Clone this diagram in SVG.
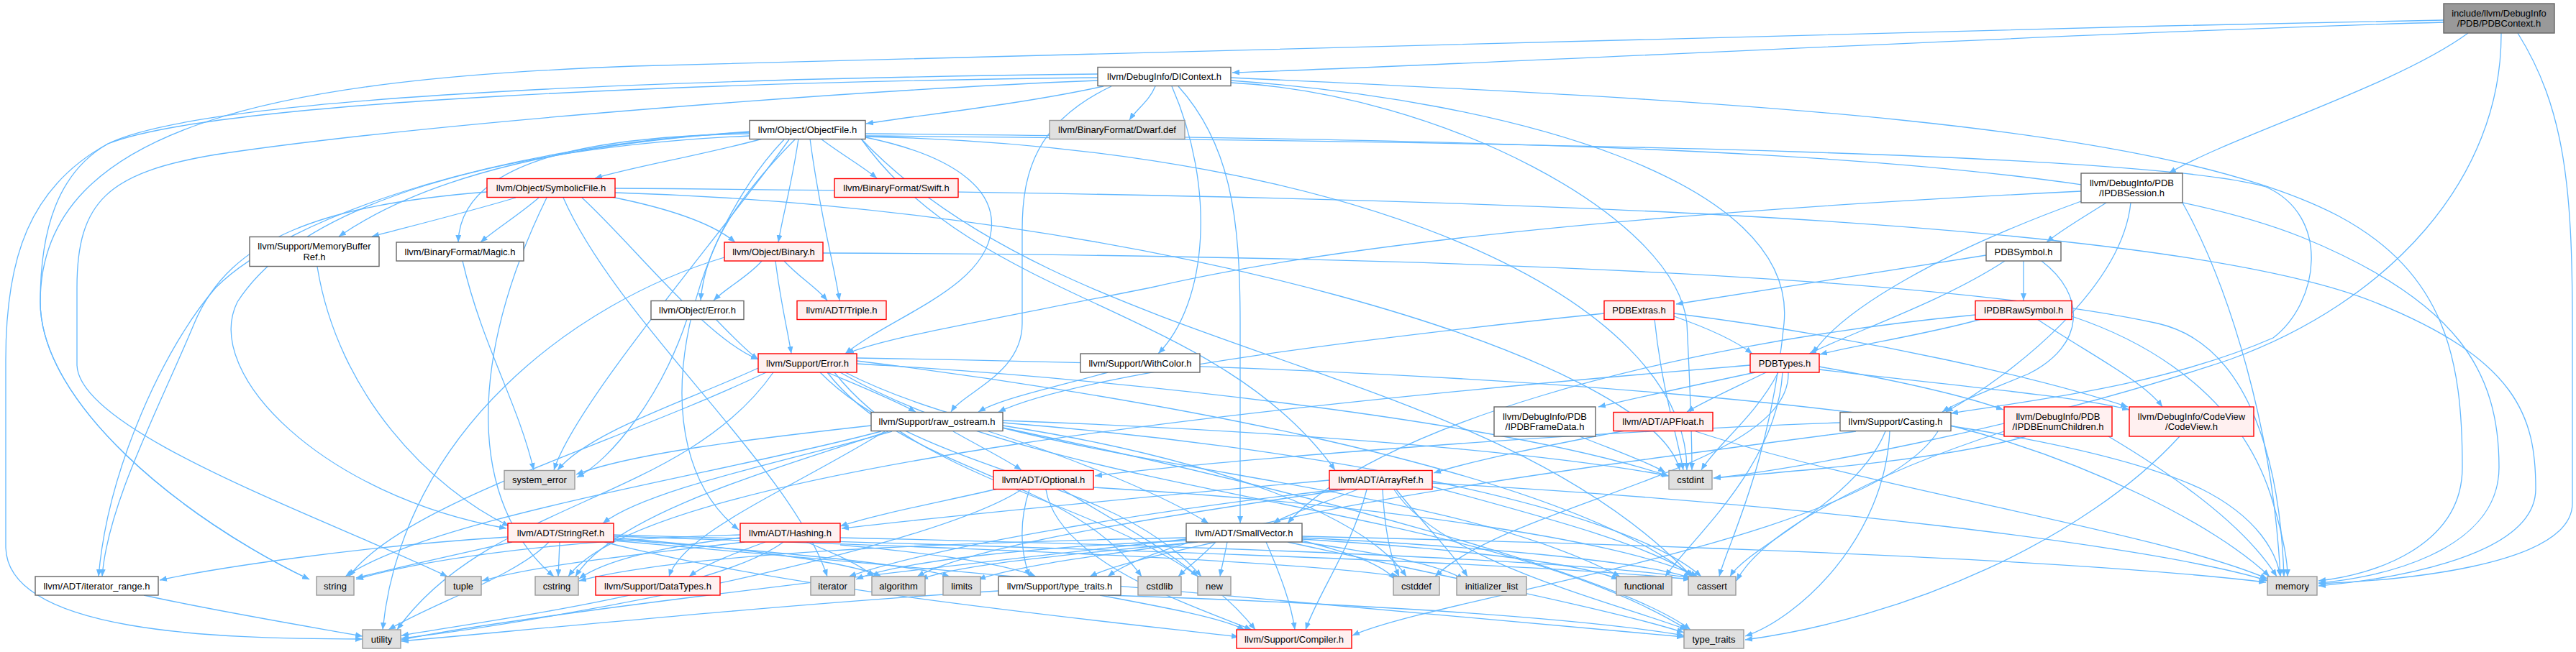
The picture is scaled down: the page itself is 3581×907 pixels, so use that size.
<svg xmlns="http://www.w3.org/2000/svg" width="3581" height="907" viewBox="0 0 3581 907">
<defs>
<marker id="a" viewBox="0 0 10 8" refX="10" refY="4" markerWidth="10" markerHeight="8" markerUnits="userSpaceOnUse" orient="auto"><path d="M0,0 L10,4 L0,8 z" fill="#63b8ff"/></marker>
<style>
.e path{fill:none;stroke:#63b8ff;stroke-width:1.3;marker-end:url(#a)}
.n rect{stroke-width:1.4}
.w rect{fill:#ffffff;stroke:#666666}
.r rect{fill:#fff0f0;stroke:#ff0000}
.g rect{fill:#e0e0e0;stroke:#999999}
.root rect{fill:#999999;stroke:#666666}
text{font-family:"Liberation Sans",Arial,Helvetica,sans-serif;font-size:13px;fill:#000000;text-anchor:middle}
</style>
</defs>
<rect x="0" y="0" width="3581" height="907" fill="#ffffff"/>
<g id="edges" class="e">
<path d="M3397,31 C2900,45 2100,88 1713,101"/>
<path d="M3431,46 C3330,120 3100,190 3015,241"/>
<path d="M3477,46 C3478,250 3320,420 3100,500 C2800,600 2480,655 2382,665"/>
<path d="M3500,46 C3565,150 3576,260 3576,450 L3576,700 C3576,790 3320,808 3223,812"/>
<path d="M3397,28 C2400,48 1300,76 880,92 C400,110 56,170 56,420 C56,560 250,720 430,806"/>
<path d="M1534,120 C1420,145 1280,160 1204,172"/>
<path d="M1606,120 C1598,140 1580,152 1570,167"/>
<path d="M1629,120 C1690,260 1680,420 1610,492"/>
<path d="M1638,120 C1710,200 1724,300 1724,450 L1724,728"/>
<path d="M1545,120 C1440,170 1421,240 1421,320 L1421,450 C1421,520 1340,545 1322,573"/>
<path d="M1711,112 C2100,140 2500,250 2480,450 C2460,650 2400,760 2390,802"/>
<path d="M1711,115 C2000,130 2330,300 2345,450 C2350,550 2352,620 2352,654"/>
<path d="M1711,108 C2400,140 3000,170 3250,300 C3400,380 3423,500 3423,650 C3423,760 3300,800 3223,808"/>
<path d="M1526,103 C1100,108 300,125 150,200 C80,240 56,320 56,420 C56,560 250,720 430,806"/>
<path d="M1526,108 C1000,114 300,140 150,200 C40,260 8,360 8,500 L8,760 C8,880 300,889 504,889"/>
<path d="M1526,112 C1200,125 600,170 300,215 C150,240 107,280 107,400 L107,507 C107,600 450,720 622,802"/>
<path d="M2928,282 C2900,300 2865,320 2845,337"/>
<path d="M2893,266 C2400,290 1900,330 1600,400 C1350,450 1230,470 1177,492"/>
<path d="M2893,280 C2700,350 2560,430 2520,492"/>
<path d="M2962,282 C2950,400 2800,520 2705,573"/>
<path d="M3034,282 C3100,400 3160,600 3170,802"/>
<path d="M1060,193 C980,215 880,232 827,248"/>
<path d="M1141,193 C1170,215 1200,232 1219,248"/>
<path d="M1110,193 C1100,260 1088,300 1082,337"/>
<path d="M1126,193 C1140,300 1160,370 1167,418"/>
<path d="M1106,193 C1030,270 980,340 974,418"/>
<path d="M1042,186 C800,190 640,230 637,337"/>
<path d="M1042,183 C800,200 600,240 471,329"/>
<path d="M1042,184 C700,200 400,300 300,400 C230,480 150,650 137,802"/>
<path d="M1203,191 C1320,215 1385,260 1378,320 C1370,400 1240,440 1175,492"/>
<path d="M1090,194 C960,330 880,620 1027,737"/>
<path d="M1042,189 C700,205 420,280 330,420 C280,520 450,690 704,735"/>
<path d="M1197,193 C1362,424 1691,424 1856,654"/>
<path d="M1203,189 C2200,198 3000,215 3150,260 C3240,300 3225,420 3160,470 C3000,540 2800,560 2712,575"/>
<path d="M1197,193 C1486,498 2063,498 2352,802"/>
<path d="M1203,190 C1900,205 2345,420 2345,654"/>
<path d="M1203,186 C2200,195 2900,210 3200,330 C3420,420 3474,520 3474,650 C3474,770 3300,805 3223,811"/>
<path d="M1097,194 C1000,330 800,560 770,654"/>
<path d="M717,275 C650,295 570,315 517,329"/>
<path d="M749,275 C720,300 690,318 668,337"/>
<path d="M850,274 C930,290 990,310 1022,337"/>
<path d="M677,267 C450,285 320,330 270,450 C220,570 150,700 142,802"/>
<path d="M809,275 C880,340 980,470 1054,500"/>
<path d="M855,268 C1600,290 2300,500 2335,654"/>
<path d="M855,262 C2000,270 3000,300 3300,420 C3500,500 3525,580 3525,680 C3525,780 3300,808 3223,815"/>
<path d="M760,275 C650,500 650,700 770,802"/>
<path d="M783,275 C860,450 1100,650 1150,802"/>
<path d="M441,371 C470,550 600,680 708,732"/>
<path d="M643,363 C670,480 720,560 742,654"/>
<path d="M1059,363 C1040,385 1010,400 992,418"/>
<path d="M1090,363 C1110,385 1135,400 1150,418"/>
<path d="M1078,363 C1085,420 1095,460 1100,492"/>
<path d="M1144,352 C2000,355 2700,385 3000,450 C3130,480 3170,650 3175,802"/>
<path d="M1007,358 C800,420 560,600 532,876"/>
<path d="M2813,363 L2813,418"/>
<path d="M2761,355 C2600,380 2450,405 2330,423"/>
<path d="M2787,363 C2700,420 2580,460 2515,492"/>
<path d="M2838,363 C2900,410 2900,480 2820,520 C2760,545 2720,560 2700,573"/>
<path d="M995,444 C1020,470 1040,490 1054,500"/>
<path d="M955,444 C920,550 850,640 802,664"/>
<path d="M2230,436 C1900,470 1500,520 1388,573"/>
<path d="M2300,444 C2310,540 2330,600 2340,654"/>
<path d="M2327,440 C2370,455 2410,472 2436,492"/>
<path d="M2327,436 C2600,470 2850,530 2958,566"/>
<path d="M2754,444 C2680,465 2580,480 2530,493"/>
<path d="M2746,438 C2300,480 1900,600 1790,728"/>
<path d="M2832,444 C2900,490 2980,530 3006,566"/>
<path d="M2880,440 C3000,480 3120,560 3160,700 C3175,750 3180,780 3180,802"/>
<path d="M1150,518 C1190,535 1240,555 1273,573"/>
<path d="M1054,512 C950,560 820,600 775,654"/>
<path d="M1065,518 C850,620 560,700 485,802"/>
<path d="M1075,518 C950,697 679,697 552,876"/>
<path d="M1160,518 C1300,697 1605,697 1745,876"/>
<path d="M1191,502 C1500,540 2150,640 2352,802"/>
<path d="M1191,506 C1600,530 2100,590 2319,662"/>
<path d="M1150,518 C1260,660 1487,660 1587,802"/>
<path d="M1175,518 C1452,660 1985,660 2252,802"/>
<path d="M1191,498 C2000,510 2800,560 3060,680 C3140,720 3165,770 3170,802"/>
<path d="M1140,518 C1280,660 1549,660 1670,802"/>
<path d="M1168,518 C1475,697 2056,697 2346,876"/>
<path d="M1540,518 C1460,540 1390,555 1360,573"/>
<path d="M2440,518 C2360,535 2280,552 2222,566"/>
<path d="M2455,518 C2410,540 2370,558 2345,573"/>
<path d="M2472,518 C2440,580 2385,620 2365,654"/>
<path d="M2478,518 C2470,650 2350,750 2315,802"/>
<path d="M2529,510 C2640,530 2730,550 2785,570"/>
<path d="M2529,514 C2700,535 2880,550 2960,570"/>
<path d="M2486,518 C2490,650 2100,700 1995,802"/>
<path d="M2433,508 C1800,560 900,650 790,802"/>
<path d="M1325,600 C1360,620 1400,640 1420,654"/>
<path d="M1240,600 C1100,640 900,680 838,728"/>
<path d="M1374,600 C1500,640 1620,690 1680,728"/>
<path d="M1230,600 C1100,680 950,740 930,802"/>
<path d="M1394,588 C1800,620 2250,700 2365,802"/>
<path d="M1394,592 C1700,640 1900,720 1955,802"/>
<path d="M1394,585 C1800,600 2150,630 2320,662"/>
<path d="M1235,600 C1050,660 850,720 800,802"/>
<path d="M1225,600 C1000,660 600,720 480,802"/>
<path d="M1211,592 C1050,610 880,630 801,660"/>
<path d="M1394,595 C1800,680 2250,800 2350,876"/>
<path d="M2196,607 C2240,625 2285,640 2315,657"/>
<path d="M2259,599 C2150,620 2050,640 1993,658"/>
<path d="M2357,600 C2600,680 3000,740 3152,805"/>
<path d="M2558,588 C2200,600 1700,640 1522,662"/>
<path d="M2621,600 C2580,700 2430,760 2405,802"/>
<path d="M2627,600 C2620,750 2500,860 2426,885"/>
<path d="M2712,592 C2900,640 3080,730 3155,802"/>
<path d="M2694,600 C2600,750 2000,830 1880,884"/>
<path d="M2580,600 C2200,650 1650,720 1540,802"/>
<path d="M2786,600 C2600,660 2450,740 2414,808"/>
<path d="M2817,607 C2700,640 2500,655 2382,665"/>
<path d="M2931,607 C3020,660 3120,730 3165,802"/>
<path d="M3030,607 C2900,750 2650,860 2426,890"/>
<path d="M1387,680 C1300,700 1220,715 1168,732"/>
<path d="M1420,681 C1300,760 800,860 558,888"/>
<path d="M1431,681 C1415,730 1420,770 1431,802"/>
<path d="M1454,681 C1470,780 1650,840 1740,876"/>
<path d="M1477,681 C1560,730 1630,770 1665,802"/>
<path d="M1520,678 C1900,700 2250,750 2360,802"/>
<path d="M1887,681 C1840,700 1790,715 1770,728"/>
<path d="M1848,668 C1600,690 1300,720 1170,735"/>
<path d="M1922,681 C1925,740 1935,780 1945,802"/>
<path d="M1941,681 C1980,730 2020,770 2040,802"/>
<path d="M1991,677 C2150,720 2300,760 2355,802"/>
<path d="M1938,681 C2000,780 2250,840 2345,876"/>
<path d="M1991,672 C2500,700 3000,760 3153,808"/>
<path d="M1900,681 C1880,760 1830,830 1815,876"/>
<path d="M1870,681 C1600,720 1350,760 1275,802"/>
<path d="M1860,681 C1600,710 1300,760 1180,802"/>
<path d="M706,747 C500,760 300,790 222,807"/>
<path d="M712,754 C640,770 550,790 495,804"/>
<path d="M778,754 L776,802"/>
<path d="M763,754 C720,800 600,840 540,876"/>
<path d="M853,748 C1000,760 1180,780 1225,802"/>
<path d="M853,750 C1050,765 1270,785 1320,802"/>
<path d="M853,744 C1400,760 2100,780 2350,806"/>
<path d="M853,746 C1300,760 1800,780 1945,802"/>
<path d="M853,752 C1400,800 2000,860 2341,886"/>
<path d="M840,754 C1100,820 1500,860 1722,886"/>
<path d="M1064,754 C1020,770 980,785 958,802"/>
<path d="M1121,754 C1160,770 1195,785 1215,802"/>
<path d="M1168,758 C1300,770 1400,785 1440,802"/>
<path d="M1168,748 C1700,760 2200,780 2350,804"/>
<path d="M1029,748 C920,760 840,780 805,805"/>
<path d="M1029,744 C800,750 600,775 495,806"/>
<path d="M1035,754 C900,770 750,785 670,808"/>
<path d="M1089,754 C1000,820 700,860 558,884"/>
<path d="M1760,754 C1780,800 1795,840 1800,876"/>
<path d="M1690,754 C1620,770 1550,785 1515,802"/>
<path d="M1665,754 C1500,770 1330,785 1280,806"/>
<path d="M1810,748 C2050,760 2280,780 2350,804"/>
<path d="M1810,752 C1880,770 1920,785 1940,806"/>
<path d="M1690,754 C1670,775 1650,790 1638,802"/>
<path d="M1649,748 C1300,755 950,770 805,808"/>
<path d="M1810,750 C2050,765 2200,785 2250,806"/>
<path d="M1810,754 C1920,770 2000,785 2035,806"/>
<path d="M1649,752 C1450,760 1250,780 1190,806"/>
<path d="M1660,754 C1550,770 1420,785 1360,806"/>
<path d="M1810,746 C2400,760 2900,780 3150,810"/>
<path d="M1706,754 C1702,775 1698,790 1696,802"/>
<path d="M1790,754 C2000,800 2250,850 2341,880"/>
<path d="M1649,750 C1200,800 700,860 558,890"/>
<path d="M200,828 C300,850 420,870 504,885"/>
<path d="M1540,828 C1900,840 2200,860 2341,884"/>
<path d="M1529,828 C1620,845 1700,860 1730,876"/>
<path d="M1388,822 C1100,840 800,870 558,892"/>
</g>
<g id="n_pdbcontext" class="n root"><rect x="3397" y="5" width="154" height="41"/><text x="3474" y="22.7">include/llvm/DebugInfo</text><text x="3474" y="37.3">/PDB/PDBContext.h</text></g>
<g id="n_dicontext" class="n w"><rect x="1526" y="93.5" width="185" height="26"/><text x="1618.5" y="111">llvm/DebugInfo/DIContext.h</text></g>
<g id="n_ipdbsession" class="n w"><rect x="2893" y="241" width="141" height="41"/><text x="2963.5" y="258.7">llvm/DebugInfo/PDB</text><text x="2963.5" y="273.3">/IPDBSession.h</text></g>
<g id="n_objectfile" class="n w"><rect x="1042" y="167.5" width="161" height="26"/><text x="1122.5" y="185">llvm/Object/ObjectFile.h</text></g>
<g id="n_dwarfdef" class="n g"><rect x="1459" y="167.5" width="188" height="26"/><text x="1553" y="185">llvm/BinaryFormat/Dwarf.def</text></g>
<g id="n_symbolicfile" class="n r"><rect x="677" y="248.5" width="178" height="26"/><text x="766" y="266">llvm/Object/SymbolicFile.h</text></g>
<g id="n_swift" class="n r"><rect x="1160" y="248.5" width="172" height="26"/><text x="1246" y="266">llvm/BinaryFormat/Swift.h</text></g>
<g id="n_memorybufferref" class="n w"><rect x="347" y="329.5" width="180" height="41"/><text x="437" y="347.2">llvm/Support/MemoryBuffer</text><text x="437" y="361.8">Ref.h</text></g>
<g id="n_magic" class="n w"><rect x="551" y="337" width="177" height="26"/><text x="639.5" y="354.5">llvm/BinaryFormat/Magic.h</text></g>
<g id="n_binary" class="n r"><rect x="1007" y="337" width="137" height="26"/><text x="1075.5" y="354.5">llvm/Object/Binary.h</text></g>
<g id="n_pdbsymbol" class="n w"><rect x="2761" y="337" width="104" height="26"/><text x="2813" y="354.5">PDBSymbol.h</text></g>
<g id="n_objerror" class="n w"><rect x="905" y="418.5" width="129" height="26"/><text x="969.5" y="436">llvm/Object/Error.h</text></g>
<g id="n_triple" class="n r"><rect x="1108" y="418.5" width="124" height="26"/><text x="1170" y="436">llvm/ADT/Triple.h</text></g>
<g id="n_pdbextras" class="n r"><rect x="2230" y="418.5" width="97" height="26"/><text x="2278.5" y="436">PDBExtras.h</text></g>
<g id="n_ipdbrawsymbol" class="n r"><rect x="2746" y="418.5" width="134" height="26"/><text x="2813" y="436">IPDBRawSymbol.h</text></g>
<g id="n_error" class="n r"><rect x="1054" y="492" width="137" height="26"/><text x="1122.5" y="509.5">llvm/Support/Error.h</text></g>
<g id="n_withcolor" class="n w"><rect x="1502" y="492" width="166" height="26"/><text x="1585" y="509.5">llvm/Support/WithColor.h</text></g>
<g id="n_pdbtypes" class="n r"><rect x="2433" y="492" width="96" height="26"/><text x="2481" y="509.5">PDBTypes.h</text></g>
<g id="n_rawostream" class="n w"><rect x="1211" y="573.5" width="183" height="26"/><text x="1302.5" y="591">llvm/Support/raw_ostream.h</text></g>
<g id="n_ipdbframedata" class="n w"><rect x="2077" y="566" width="141" height="41"/><text x="2147.5" y="583.7">llvm/DebugInfo/PDB</text><text x="2147.5" y="598.3">/IPDBFrameData.h</text></g>
<g id="n_apfloat" class="n r"><rect x="2243" y="573.5" width="138" height="26"/><text x="2312" y="591">llvm/ADT/APFloat.h</text></g>
<g id="n_casting" class="n w"><rect x="2558" y="573.5" width="154" height="26"/><text x="2635" y="591">llvm/Support/Casting.h</text></g>
<g id="n_ipdbenumchildren" class="n r"><rect x="2786" y="566" width="150" height="41"/><text x="2861" y="583.7">llvm/DebugInfo/PDB</text><text x="2861" y="598.3">/IPDBEnumChildren.h</text></g>
<g id="n_codeview" class="n r"><rect x="2960" y="566" width="173" height="41"/><text x="3046.5" y="583.7">llvm/DebugInfo/CodeView</text><text x="3046.5" y="598.3">/CodeView.h</text></g>
<g id="n_system_error" class="n g"><rect x="701" y="654.5" width="98" height="26"/><text x="750" y="672">system_error</text></g>
<g id="n_optional" class="n r"><rect x="1381" y="654.5" width="139" height="26"/><text x="1450.5" y="672">llvm/ADT/Optional.h</text></g>
<g id="n_arrayref" class="n r"><rect x="1848" y="654.5" width="143" height="26"/><text x="1919.5" y="672">llvm/ADT/ArrayRef.h</text></g>
<g id="n_cstdint" class="n g"><rect x="2320" y="654.5" width="60" height="26"/><text x="2350" y="672">cstdint</text></g>
<g id="n_stringref" class="n r"><rect x="706" y="728" width="147" height="26"/><text x="779.5" y="745.5">llvm/ADT/StringRef.h</text></g>
<g id="n_hashing" class="n r"><rect x="1029" y="728" width="139" height="26"/><text x="1098.5" y="745.5">llvm/ADT/Hashing.h</text></g>
<g id="n_smallvector" class="n w"><rect x="1649" y="728" width="161" height="26"/><text x="1729.5" y="745.5">llvm/ADT/SmallVector.h</text></g>
<g id="n_iterator_range" class="n w"><rect x="49" y="802" width="171" height="26"/><text x="134.5" y="819.5">llvm/ADT/iterator_range.h</text></g>
<g id="n_string" class="n g"><rect x="440" y="802" width="52" height="26"/><text x="466" y="819.5">string</text></g>
<g id="n_tuple" class="n g"><rect x="619" y="802" width="50" height="26"/><text x="644" y="819.5">tuple</text></g>
<g id="n_cstring" class="n g"><rect x="744" y="802" width="60" height="26"/><text x="774" y="819.5">cstring</text></g>
<g id="n_datatypes" class="n r"><rect x="828" y="802" width="173" height="26"/><text x="914.5" y="819.5">llvm/Support/DataTypes.h</text></g>
<g id="n_iterator" class="n g"><rect x="1127" y="802" width="61" height="26"/><text x="1157.5" y="819.5">iterator</text></g>
<g id="n_algorithm" class="n g"><rect x="1212" y="802" width="74" height="26"/><text x="1249" y="819.5">algorithm</text></g>
<g id="n_limits" class="n g"><rect x="1311" y="802" width="52" height="26"/><text x="1337" y="819.5">limits</text></g>
<g id="n_type_traits_h" class="n w"><rect x="1388" y="802" width="170" height="26"/><text x="1473" y="819.5">llvm/Support/type_traits.h</text></g>
<g id="n_cstdlib" class="n g"><rect x="1582" y="802" width="60" height="26"/><text x="1612" y="819.5">cstdlib</text></g>
<g id="n_new" class="n g"><rect x="1665" y="802" width="46" height="26"/><text x="1688" y="819.5">new</text></g>
<g id="n_cstddef" class="n g"><rect x="1937" y="802" width="64" height="26"/><text x="1969" y="819.5">cstddef</text></g>
<g id="n_initializer_list" class="n g"><rect x="2025" y="802" width="97" height="26"/><text x="2073.5" y="819.5">initializer_list</text></g>
<g id="n_functional" class="n g"><rect x="2247" y="802" width="77" height="26"/><text x="2285.5" y="819.5">functional</text></g>
<g id="n_cassert" class="n g"><rect x="2347" y="802" width="66" height="26"/><text x="2380" y="819.5">cassert</text></g>
<g id="n_memory" class="n g"><rect x="3152" y="802" width="69" height="26"/><text x="3186.5" y="819.5">memory</text></g>
<g id="n_utility" class="n g"><rect x="504" y="876" width="53" height="26"/><text x="530.5" y="893.5">utility</text></g>
<g id="n_compiler" class="n r"><rect x="1719" y="876" width="160" height="26"/><text x="1799" y="893.5">llvm/Support/Compiler.h</text></g>
<g id="n_type_traits" class="n g"><rect x="2341" y="876" width="83" height="26"/><text x="2382.5" y="893.5">type_traits</text></g>
</svg>
